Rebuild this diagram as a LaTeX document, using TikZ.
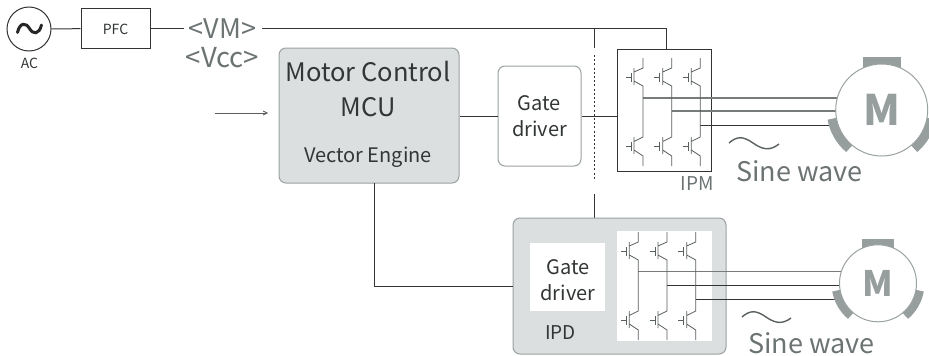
\documentclass[tikz,border=0pt]{standalone}
\usepackage{fontspec}
\setmainfont{Noto Sans CJK JP}
\usetikzlibrary{arrows.meta,calc}
\definecolor{wire}{HTML}{333333}
\definecolor{greywire}{HTML}{777B7B}
\definecolor{sw}{HTML}{5A5F5F}
\definecolor{boxfill}{HTML}{DCDFE0}
\definecolor{boxline}{HTML}{9AA1A1}
\definecolor{stator}{HTML}{969E9E}
\definecolor{greytext}{HTML}{6C7373}
\definecolor{darktext}{HTML}{333636}
\tikzset{
  cable/.style={draw=wire,line width=1pt},
  gcable/.style={draw=greywire,line width=1.2pt},
  plainbox/.style={draw=wire,line width=1pt,fill=white,rectangle,inner sep=0pt},
  greybox/.style={draw=boxline,line width=1pt,fill=boxfill,rectangle,rounded corners=7pt,inner sep=0pt},
  softbox/.style={draw=boxline,line width=1pt,fill=white,rectangle,rounded corners=7pt,inner sep=0pt},
  whitebox/.style={fill=white,rectangle,inner sep=0pt},
  motor/.style={circle,draw=boxline,line width=1pt,fill=white,inner sep=0pt,text=stator,font=\bfseries},
  lbl/.style={inner sep=0pt,text=darktext,align=center},
  glbl/.style={inner sep=0pt,text=greytext,align=center},
  swline/.style={draw=sw,line width=0.8pt},
}
\newcommand{\fpx}[1]{\fontsize{#1pt}{#1pt}\selectfont}
% one inverter bridge leg: collector x, top y
\newcommand{\bridgeleg}[2]{%
  \begin{scope}[shift={(#1,#2)}]
    \draw[swline] (0,0)--(0,10)--(-9,14) (-9,10)--(-9,27) (-9,23)--(0,28)--(0,79)--(-9,83.5) (-9,79)--(-9,96) (-9,92)--(0,98)--(0,108);
    \draw[swline] (-17.3,19.3)--(-12,19.3) (-12,15)--(-12,23.5) (-17.3,88)--(-12,88) (-12,84)--(-12,92.5);
  \end{scope}}
\begin{document}
\begin{tikzpicture}[x=1pt,y=-1pt]
\useasboundingbox (0,0) rectangle (929,356);

% top supply chain
\node[circle,draw=wire,line width=1pt,minimum size=44pt,inner sep=0pt] (ac) at (29,29) {};
\draw[line width=3pt,draw=black!85,line cap=round] (17.5,32.5) .. controls (20,22) and (26,22.5) .. (29.5,28.5) .. controls (33,34.5) and (39,35) .. (41.5,25);
\node[lbl,font=\fpx{14}] (aclabel) at (29.5,63) {AC};
\node[plainbox,minimum width=69pt,minimum height=40pt] (pfc) at (115.5,28.5) {};
\node[lbl,font=\fpx{14}] (pfclabel) at (115.5,29) {PFC};
\node[glbl,font=\fpx{27}] (vm) at (222.5,28.5) {<VM>};
\node[glbl,font=\fpx{27.5}] (vcc) at (222.5,58) {<Vcc>};
\draw[cable] (ac) -- (pfc);
\draw[cable] (pfc.east) -- ++(33,0) coordinate (vmin);

% main blocks
\node[greybox,minimum width=180pt,minimum height=135pt] (mcu) at (369,115.5) {};
\node[lbl,font=\fpx{25.5}] (mcutext) at (368,72) {Motor Control};
\node[lbl,font=\fpx{25.5}] (mcutext2) at (368,107) {MCU};
\node[lbl,font=\fpx{20}] (vengine) at (368,157) {Vector Engine};
\node[softbox,minimum width=83pt,minimum height=100pt] (gd1) at (539.5,116) {};
\node[lbl,font=\fpx{20}] (gd1a) at (539.5,103) {Gate};
\node[lbl,font=\fpx{20}] (gd1b) at (539.5,129) {driver};
\node[plainbox,minimum width=94pt,minimum height=122.5pt] (ipm) at (664.5,110.7) {};
\node[glbl,font=\fpx{19}] (ipmlabel) at (697,184) {IPM};

\coordinate (arrowfrom) at (215,113);
\coordinate (arrowto) at (268,113);
\draw[draw=sw,line width=0.8pt,-{Straight Barb[length=4pt,width=4pt]}] (arrowfrom) -- (arrowto);
\draw[cable] (mcu.east |- gd1) -- (gd1);
\draw[cable] (gd1) -- (ipm.west |- gd1);
\draw[cable] (262,28) -- (666,28) -- (666,49.5);

% separator
\coordinate (septop) at (594,28);
\draw[cable] (septop) -- (594,48);
\draw[draw=wire,line width=1pt,dash pattern=on 2pt off 2.2pt] (594,55) -- (594,181);
\draw[cable] (594,194) -- (594,218);

% IPD
\node[greybox,minimum width=213pt,minimum height=136pt] (ipd) at (619.5,286) {};
\node[whitebox,minimum width=75pt,minimum height=68pt] (gd2) at (567.5,277) {};
\node[lbl,font=\fpx{20}] (gd2a) at (568,267) {Gate};
\node[lbl,font=\fpx{20}] (gd2b) at (568,293) {driver};
\node[whitebox,minimum width=95pt,minimum height=110pt] (swbox) at (664.5,286) {};
\node[lbl,font=\fpx{19}] (ipdlabel) at (560.5,333) {IPD};
\draw[cable] (374,183) -- (374,286) -- (ipd.west |- 0,286);

% motor 1
\coordinate (m1c) at (881.7,110);
\coordinate (p1a) at (643,98); \coordinate (p1b) at (671.7,111); \coordinate (p1c) at (700.3,125);
\draw[gcable] (p1a) -- (p1a -| m1c);
\draw[gcable] (p1b) -- (p1b -| m1c);
\draw[cable] (p1c) -- (p1c -| m1c);
\bridgeleg{643}{58}\bridgeleg{671.7}{58}\bridgeleg{700.3}{58}
\fill[stator] (863,57) rectangle (901,68);
\draw[stator,line width=9pt] ($(m1c)+(130:50.5)$) arc[start angle=130,end angle=170,radius=50.5];
\draw[stator,line width=9pt] ($(m1c)+(10:50.5)$) arc[start angle=10,end angle=50,radius=50.5];
\node[motor,minimum size=92pt,font=\fpx{42}\bfseries] (m1) at (m1c) {M};
\draw[draw=sw,line width=1.4pt] (729,143) .. controls (737,136) and (743,136) .. (753,143) .. controls (763,150) and (770,151) .. (779,144);
\node[glbl,font=\fpx{27}] (sine1) at (799.5,171) {Sine wave};

% motor 2
\coordinate (m2c) at (878,283.3);
\coordinate (p2a) at (638.3,271.7); \coordinate (p2b) at (667,285.5); \coordinate (p2c) at (695.7,299.5);
\draw[gcable] (p2a) -- (p2a -| m2c);
\draw[cable] (p2b) -- (p2b -| m2c);
\draw[cable] (p2c) -- (p2c -| m2c);
\bridgeleg{638.3}{232}\bridgeleg{667}{232}\bridgeleg{695.7}{232}
\fill[stator] (862.3,239) rectangle (894,249);
\draw[stator,line width=8pt] ($(m2c)+(130:42.5)$) arc[start angle=130,end angle=170,radius=42.5];
\draw[stator,line width=8pt] ($(m2c)+(10:42.5)$) arc[start angle=10,end angle=50,radius=42.5];
\node[motor,minimum size=77pt,font=\fpx{35}\bfseries] (m2) at (m2c) {M};
\draw[draw=sw,line width=1.4pt] (742,317) .. controls (750,310) and (756,310) .. (766,317) .. controls (776,324) and (783,324) .. (791,318);
\node[glbl,font=\fpx{27}] (sine2) at (811.5,343) {Sine wave};
\end{tikzpicture}
\end{document}
